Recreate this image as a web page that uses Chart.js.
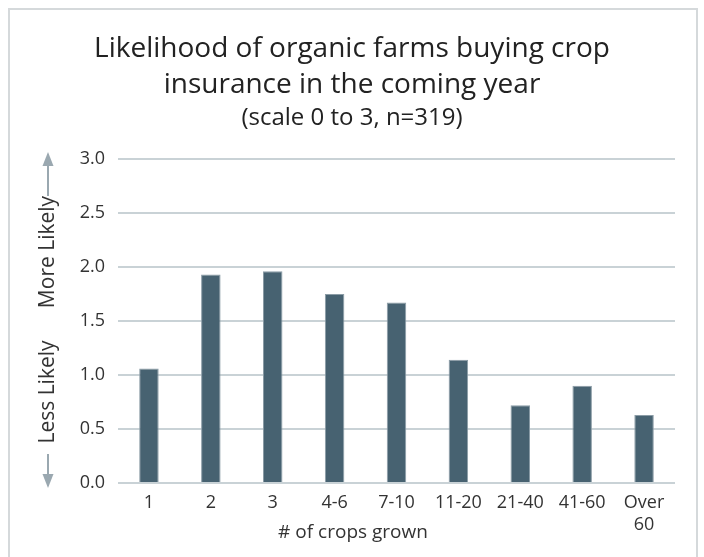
<!DOCTYPE html>
<html>
<head>
    <title>Crop insurance likelihood</title>
    <script src="https://cdn.jsdelivr.net/npm/chart.js"></script>
    <style>
        body {
            margin: 0;
            background: #ffffff;
            font-family: "Open Sans", Arial, sans-serif;
        }

        .frame {
            position: absolute;
            left: 8px;
            top: 8px;
            width: 690px;
            height: 600px;
            border: 2px solid #d5d9db;
            box-sizing: border-box;
        }

        .chart-container {
            position: absolute;
            left: 0;
            top: 0;
            width: 704px;
            height: 557px;
        }
    </style>
</head>
<body>
    <div class="frame"></div>
    <div class="chart-container">
        <canvas id="crop-chart"></canvas>
    </div>

    <script>
        // values
        const categories = ['1', '2', '3', '4-6', '7-10', '11-20', '21-40', '41-60', ['Over', '60']];
        const likelihood = [1.06, 1.93, 1.96, 1.75, 1.67, 1.14, 0.72, 0.90, 0.63];
        const yTicks = [0, 0.5, 1.0, 1.5, 2.0, 2.5, 3.0];

        const titleLines = ['Likelihood of organic farms buying crop', 'insurance in the coming year'];
        const subtitleText = '(scale 0 to 3, n=319)';
        const xTitle = '# of crops grown';

        // draws the axis titles and the arrows next to the y axis
        const axisLabels = {
            id: 'axisLabels',
            afterDraw(chart) {
                const ctx = chart.ctx;
                ctx.save();

                ctx.fillStyle = '#333333';
                ctx.font = '19px "Open Sans"';
                ctx.textAlign = 'center';
                ctx.textBaseline = 'middle';
                ctx.fillText(xTitle, 353, 533);

                // y title, rotated
                ctx.translate(48, 0);
                ctx.rotate(-Math.PI / 2);
                ctx.font = '21px "Open Sans"';
                ctx.fillText('More Likely', -252, 0);
                ctx.fillText('Less Likely', -392, 0);
                ctx.restore();

                // arrows
                ctx.save();
                ctx.strokeStyle = '#9aa8b0';
                ctx.fillStyle = '#9aa8b0';
                ctx.lineWidth = 2;
                const x = 48;
                const top = 152;
                const bottom = 488;
                ctx.beginPath();
                ctx.moveTo(x, 196);
                ctx.lineTo(x, top + 10);
                ctx.moveTo(x, 454);
                ctx.lineTo(x, bottom - 10);
                ctx.stroke();
                ctx.beginPath();
                ctx.moveTo(x, top);
                ctx.lineTo(x - 5.5, top + 14);
                ctx.lineTo(x + 5.5, top + 14);
                ctx.closePath();
                ctx.fill();
                ctx.beginPath();
                ctx.moveTo(x, bottom);
                ctx.lineTo(x - 5.5, bottom - 14);
                ctx.lineTo(x + 5.5, bottom - 14);
                ctx.closePath();
                ctx.fill();
                ctx.restore();
            }
        };

        const ctx = document.getElementById('crop-chart').getContext('2d');
        const cropChart = new Chart(ctx, {
            type: 'bar',
            data: {
                labels: categories,
                datasets: [{
                    data: likelihood,
                    backgroundColor: '#476271',
                    borderColor: '#8b9ca6',
                    borderWidth: 1,
                    barPercentage: 0.315,
                    categoryPercentage: 1
                }]
            },
            options: {
                responsive: true,
                maintainAspectRatio: false,
                animation: false,
                layout: {
                    padding: { left: 29, right: 29, top: 0, bottom: 0 }
                },
                plugins: {
                    legend: { display: false },
                    tooltip: { enabled: false },
                    title: {
                        display: true,
                        text: titleLines,
                        color: '#222222',
                        font: { family: 'Open Sans', size: 28, weight: 'normal', lineHeight: 1.286 },
                        padding: { top: 31, bottom: 1 }
                    },
                    subtitle: {
                        display: true,
                        text: subtitleText,
                        color: '#222222',
                        font: { family: 'Open Sans', size: 24, weight: 'normal', lineHeight: 1.2 },
                        padding: { top: 0, bottom: 26 }
                    }
                },
                scales: {
                    x: {
                        grid: { display: false },
                        border: { display: false },
                        ticks: {
                            color: '#333333',
                            maxRotation: 0,
                            autoSkip: false,
                            padding: 1,
                            font: { family: 'Open Sans', size: 18, lineHeight: 1.2 }
                        },
                        afterFit(scale) {
                            scale.height = 74;
                        }
                    },
                    y: {
                        min: 0,
                        max: 3,
                        afterBuildTicks(scale) {
                            scale.ticks = yTicks.map(v => ({ value: v }));
                        },
                        grid: { color: '#c9d2d6', lineWidth: 2, drawTicks: false },
                        border: { display: false },
                        ticks: {
                            color: '#333333',
                            padding: 13,
                            font: { family: 'Open Sans', size: 18 },
                            callback: v => Number(v).toFixed(1)
                        },
                        afterFit(scale) {
                            scale.width = 89;
                        }
                    }
                }
            },
            plugins: [axisLabels]
        });
    </script>
</body>
</html>
